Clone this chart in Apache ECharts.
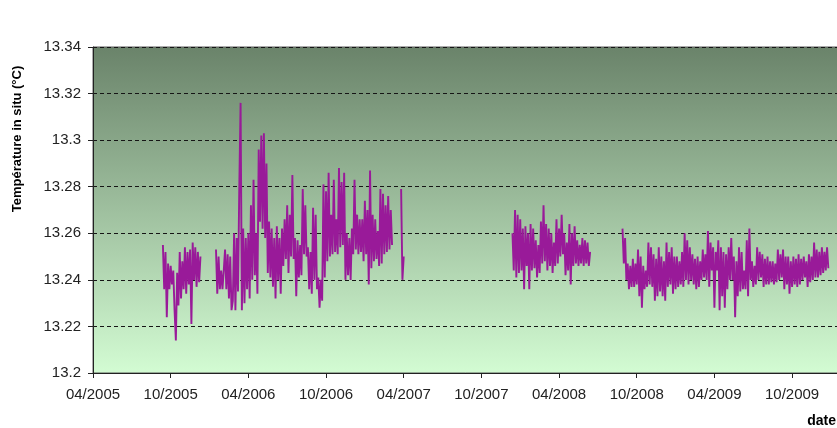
<!DOCTYPE html>
<html>
<head>
<meta charset="utf-8">
<script src="https://cdn.jsdelivr.net/npm/echarts/dist/echarts.min.js"></script>
<style>
  html, body { margin: 0; padding: 0; background: #fff; }
  #chart { width: 837px; height: 428px; }
</style>
</head>
<body>
<div id="chart"></div>
<script>
// x values are months counted from April 2005; samples are spaced STEP months apart
const STEP = 0.1;

const xTickLabels = ['04/2005', '10/2005', '04/2006', '10/2006', '04/2007',
                     '10/2007', '04/2008', '10/2008', '04/2009', '10/2009'];

// autumn 2005 deployment
const seg1Start = 5.4;
const seg1Temps = [13.255,13.236,13.252,13.224,13.247,13.236,13.246,13.238,13.244,13.227,
  13.214,13.243,13.229,13.252,13.232,13.248,13.236,13.254,13.234,13.252,
  13.238,13.253,13.221,13.256,13.240,13.254,13.237,13.252,13.239,13.250];

// January 2006 – March 2007
const seg2Start = 9.5;
const seg2Temps = [13.253,13.234,13.250,13.236,13.244,13.236,13.244,13.253,13.236,13.251,
  13.232,13.250,13.227,13.231,13.260,13.227,13.258,13.235,13.280,13.316,
  13.227,13.262,13.230,13.258,13.236,13.260,13.232,13.272,13.240,13.283,
  13.242,13.260,13.234,13.296,13.265,13.302,13.262,13.303,13.258,13.290,
  13.243,13.265,13.241,13.262,13.237,13.258,13.232,13.263,13.240,13.258,
  13.234,13.262,13.246,13.266,13.249,13.272,13.243,13.268,13.250,13.285,
  13.249,13.258,13.233,13.257,13.241,13.255,13.242,13.279,13.251,13.272,
  13.250,13.254,13.236,13.252,13.234,13.271,13.240,13.268,13.236,13.241,
  13.228,13.240,13.231,13.281,13.241,13.278,13.248,13.286,13.250,13.268,
  13.251,13.283,13.252,13.266,13.251,13.288,13.254,13.282,13.255,13.286,
  13.240,13.260,13.242,13.258,13.240,13.262,13.251,13.283,13.253,13.268,
  13.251,13.266,13.252,13.266,13.248,13.274,13.251,13.270,13.238,13.287,
  13.245,13.268,13.248,13.266,13.249,13.261,13.246,13.279,13.247,13.277,
  13.251,13.272,13.252,13.276,13.253,13.270,13.255];

// short record at the end of March 2007
const seg2bStart = 23.8;
const seg2bTemps = [13.279, 13.240, 13.250];

// autumn 2007 – spring 2008
const seg3Start = 32.4;
const seg3Temps = [13.260,13.244,13.270,13.241,13.268,13.243,13.266,13.244,13.262,13.236,
  13.263,13.246,13.260,13.236,13.264,13.244,13.262,13.245,13.257,13.241,
  13.255,13.243,13.265,13.247,13.272,13.248,13.264,13.244,13.262,13.246,
  13.260,13.243,13.256,13.246,13.266,13.247,13.262,13.250,13.268,13.251,
  13.260,13.242,13.256,13.244,13.264,13.238,13.260,13.246,13.263,13.247,
  13.257,13.246,13.255,13.247,13.258,13.246,13.257,13.247,13.256,13.246,
  13.252];

// autumn 2008 – end of 2009
const seg4Start = 40.9;
const seg4Temps = [13.262,13.247,13.258,13.240,13.247,13.236,13.246,13.237,13.249,13.237,
  13.247,13.238,13.253,13.233,13.250,13.228,13.246,13.236,13.244,13.237,
  13.256,13.238,13.254,13.237,13.251,13.231,13.249,13.233,13.254,13.235,
  13.250,13.233,13.248,13.231,13.256,13.237,13.252,13.238,13.254,13.234,
  13.250,13.236,13.250,13.237,13.248,13.238,13.252,13.237,13.260,13.240,
  13.257,13.238,13.254,13.240,13.251,13.238,13.249,13.236,13.250,13.237,
  13.248,13.240,13.253,13.241,13.251,13.240,13.261,13.237,13.256,13.244,
  13.254,13.228,13.252,13.244,13.257,13.227,13.254,13.233,13.252,13.228,
  13.251,13.236,13.254,13.240,13.258,13.240,13.250,13.224,13.248,13.233,
  13.254,13.235,13.252,13.236,13.244,13.236,13.257,13.233,13.262,13.240,
  13.248,13.237,13.246,13.238,13.254,13.240,13.252,13.241,13.251,13.237,
  13.249,13.238,13.250,13.238,13.248,13.239,13.248,13.238,13.247,13.239,
  13.253,13.240,13.251,13.241,13.253,13.236,13.250,13.238,13.250,13.234,
  13.248,13.237,13.250,13.238,13.249,13.237,13.251,13.238,13.249,13.240,
  13.250,13.241,13.248,13.237,13.251,13.239,13.250,13.240,13.256,13.241,
  13.253,13.241,13.252,13.242,13.254,13.243,13.252,13.244,13.254,13.245];

function toPoints(start, temps) {
  return temps.map((t, i) => [+(start + i * STEP).toFixed(2), t]);
}

const segments = [
  toPoints(seg1Start, seg1Temps),
  toPoints(seg2Start, seg2Temps),
  toPoints(seg2bStart, seg2bTemps),
  toPoints(seg3Start, seg3Temps),
  toPoints(seg4Start, seg4Temps)
];

const FONT = '"Liberation Sans", Arial, sans-serif';
const chart = echarts.init(document.getElementById('chart'), null, { renderer: 'canvas' });

chart.setOption({
  animation: false,
  backgroundColor: '#ffffff',
  grid: {
    // the plot runs past the right edge of the canvas
    left: 93, right: -3, top: 47, bottom: 55,
    containLabel: false,
    outerBoundsMode: 'none',
    show: true,
    borderColor: '#5a5a5a',
    borderWidth: 1,
    backgroundColor: new echarts.graphic.LinearGradient(0, 0, 0, 1, [
      { offset: 0, color: '#6a836a' },
      { offset: 1, color: '#d3fcd3' }
    ])
  },
  xAxis: {
    type: 'value',
    min: 0,
    max: 57.7,
    interval: 6,
    axisLine: { show: true, onZero: false, lineStyle: { color: '#222', width: 1 } },
    axisTick: { show: true, length: 5, lineStyle: { color: '#222' } },
    splitLine: { show: false },
    axisLabel: {
      margin: 14,
      fontFamily: FONT,
      fontSize: 15,
      color: '#222',
      showMaxLabel: false,
      formatter: function (v) {
        const k = Math.round(v / 6);
        return (Math.abs(v - 6 * k) < 1e-6 && xTickLabels[k]) ? xTickLabels[k] : '';
      }
    }
  },
  yAxis: {
    type: 'value',
    min: 13.2,
    max: 13.34,
    interval: 0.02,
    axisLine: { show: true, lineStyle: { color: '#222', width: 1 } },
    axisTick: { show: true, length: 5, lineStyle: { color: '#222' } },
    axisLabel: {
      margin: 12,
      fontFamily: FONT,
      fontSize: 15,
      color: '#222',
      formatter: v => String(+v.toFixed(2))
    },
    splitLine: { show: true, lineStyle: { color: '#151515', width: 1, type: [4, 3] } }
  },
  series: segments.map(pts => ({
    type: 'line',
    data: pts,
    showSymbol: false,
    symbol: 'none',
    sampling: null,
    lineStyle: { color: '#991a99', width: 1.9 },
    z: 3
  })),
  graphic: [
    {
      type: 'text',
      x: 17, y: 139,
      rotation: Math.PI / 2,
      style: {
        text: 'Température in situ (°C)',
        font: 'bold 13px ' + FONT,
        fill: '#000',
        align: 'center',
        verticalAlign: 'middle'
      }
    },
    {
      type: 'text',
      x: 836, y: 421,
      style: {
        text: 'date',
        font: 'bold 14px ' + FONT,
        fill: '#000',
        align: 'right',
        verticalAlign: 'middle'
      }
    }
  ]
});
</script>
</body>
</html>
